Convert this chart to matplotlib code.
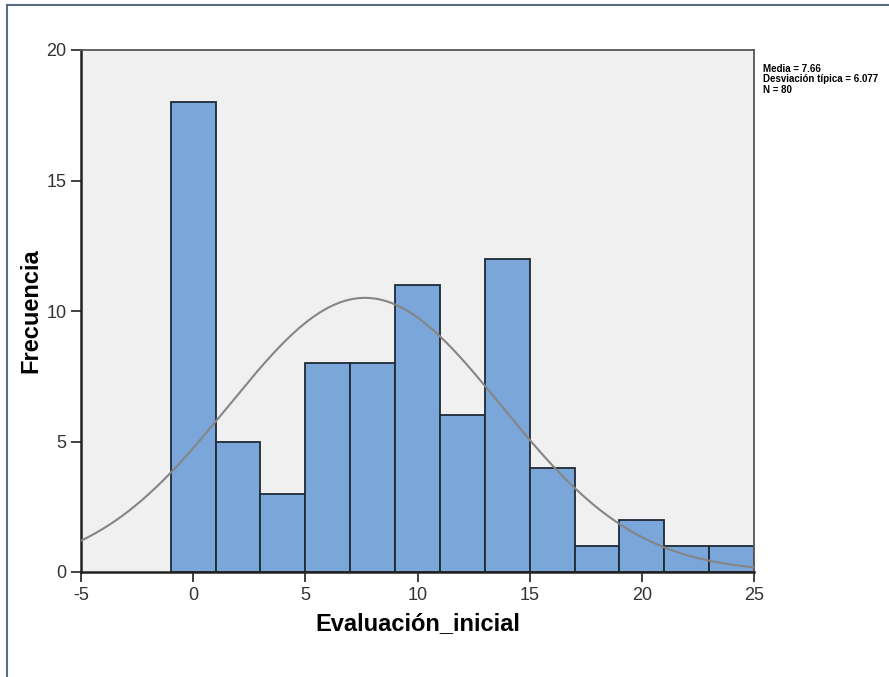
import numpy as np
import matplotlib.pyplot as plt
from matplotlib.lines import Line2D

plt.rcParams['font.family'] = ['Liberation Sans', 'DejaVu Sans']
plt.rcParams['axes.unicode_minus'] = False

# histogram bins (width 2, centred on even values)
bin_centers = [0, 2, 4, 6, 8, 10, 12, 14, 16, 18, 20, 22, 24]
counts = [18, 5, 3, 8, 8, 11, 6, 12, 4, 1, 2, 1, 1]
bin_width = 2

media = 7.66
desv = 6.077
n = 80

fig = plt.figure(figsize=(8.89, 6.77), dpi=100)
ax = fig.add_axes([81 / 889, 1 - 572 / 677, (754 - 81) / 889, (572 - 50) / 677])
ax.set_facecolor('#f0f0f0')

ax.bar(bin_centers, counts, width=bin_width, color='#7aa6da',
       edgecolor='#1f2a36', linewidth=1.3, zorder=2)

xs = np.linspace(-5, 25, 400)
ys = n * bin_width / (desv * np.sqrt(2 * np.pi)) * np.exp(-0.5 * ((xs - media) / desv) ** 2)
ax.plot(xs, ys, color='#858585', linewidth=1.5, zorder=3)

ax.set_xlim(-5, 25)
ax.set_ylim(0, 20)
ax.set_xticks([-5, 0, 5, 10, 15, 20, 25])
ax.set_yticks([0, 5, 10, 15, 20])
ax.tick_params(axis='both', labelsize=13, colors='#333333', length=7, width=1.3)
for lab in ax.get_xticklabels() + ax.get_yticklabels():
    lab.set_color('#333333')

for side in ['left', 'bottom']:
    ax.spines[side].set_color('#222222')
    ax.spines[side].set_linewidth(1.8)
for side in ['top', 'right']:
    ax.spines[side].set_color('#555555')
    ax.spines[side].set_linewidth(1.3)

ax.set_xlabel('Evaluación_inicial', fontsize=17, fontweight='bold', labelpad=6)
ax.set_ylabel('Frecuencia', fontsize=17, fontweight='bold', labelpad=3)

fig.text(763 / 889, 1 - 64 / 677,
         'Media = %.2f\nDesviación típica = %.3f\nN = %d' % (media, desv, n),
         fontsize=7, fontweight='bold', va='top', ha='left', linespacing=1.05)

# outer frame (only left and top edges visible)
fig.add_artist(Line2D([7 / 889, 7 / 889], [0, 1 - 5 / 677], color='#5b6b80', linewidth=1.5))
fig.add_artist(Line2D([7 / 889, 1], [1 - 5 / 677, 1 - 5 / 677], color='#5b6b80', linewidth=1.5))

fig.savefig('out.png', dpi=100)
